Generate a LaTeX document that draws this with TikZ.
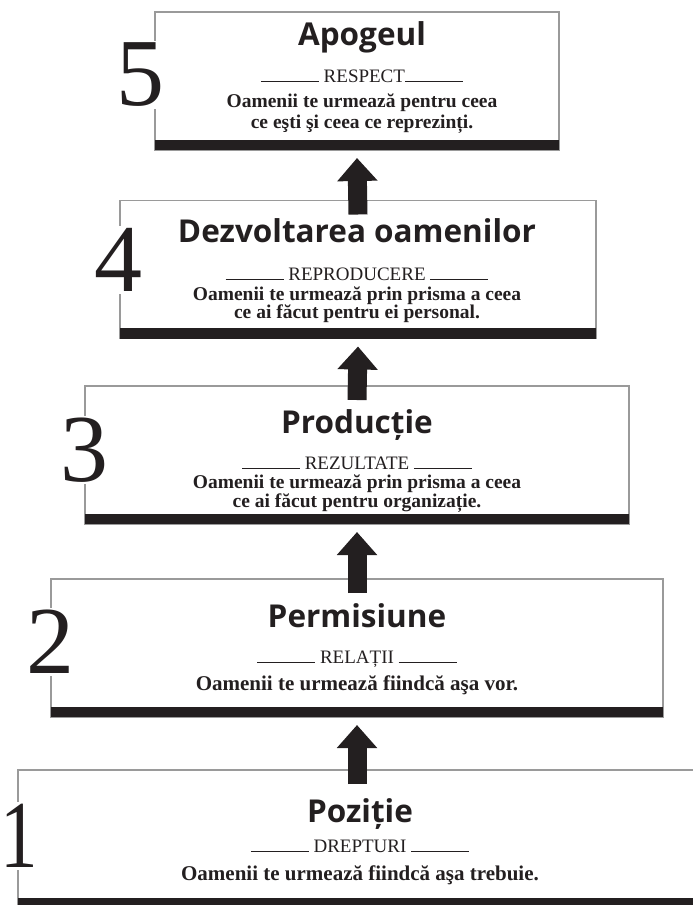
\documentclass[tikz,border=0pt]{standalone}
\usepackage{fontspec}
\setmainfont{Liberation Serif}
\newfontfamily\titlefont{Open Sans}
\usetikzlibrary{arrows.meta}
\definecolor{inkblack}{HTML}{231F20}
\definecolor{framegray}{HTML}{9A9A9A}
\newcommand{\sepline}{\rule{58pt}{1.1pt}}

\begin{document}
\begin{tikzpicture}[
		x=1pt, y=-1pt,
		level/.style={draw=framegray, line width=1.2pt, fill=white, minimum height=138pt, inner sep=0pt, outer sep=0pt},
		bar/.style={fill=inkblack},
		rank/.style={fill=white, text=inkblack, inner sep=2pt, font=\fontsize{96}{96}\selectfont},
		ttl/.style={anchor=base, inner sep=0pt, text=inkblack, font=\titlefont\bfseries\fontsize{31.5}{34}\selectfont},
		sub/.style={anchor=base, inner sep=0pt, text=inkblack, font=\fontsize{19}{21}\selectfont},
		txt/.style={anchor=base, inner sep=0pt, text=inkblack, font=\bfseries\fontsize{19.5}{21}\selectfont},
		txtbig/.style={txt, font=\bfseries\fontsize{21}{23}\selectfont},
		uparrow/.style={-{Triangle[width=39pt,length=23pt]}, line width=19pt, draw=inkblack}
	]
	\useasboundingbox (0,0) rectangle (693,905);
	\clip (0,0) rectangle (693,905);
	% the five levels, bottom to top
	\node[level, minimum width=678pt] (b1) at (357,839) {};
	\node[level, minimum width=612pt] (b2) at (357,648) {};
	\node[level, minimum width=544pt] (b3) at (357,455) {};
	\node[level, minimum width=476pt] (b4) at (358,269.5) {};
	\node[level, minimum width=404pt] (b5) at (357,81) {};
	\foreach \i in {1,...,5} {
			\fill[bar] (b\i.south west) rectangle ([yshift=10.5pt]b\i.south east);
		}
	% numbers on the left edge
	\node[rank] (n1) at (19,836) {\scalebox{0.78}[1]{1}};
	\node[rank] (n2) at (50,642) {2};
	\node[rank] (n3) at (84,450) {3};
	\node[rank] (n4) at (118,260) {4};
	\node[rank] (n5) at (140,75) {5};
	% arrows between levels
	\foreach \i/\j in {1/2,2/3,3/4,4/5} {
			\draw[uparrow] ([yshift=-14pt]b\i.north) -- ([yshift=-8pt]b\j.south);
		}
	% level 5
	\node[ttl] (t5) at (362,45) {Apogeul};
	\node[sub] (s5) at (362,82) {\sepline{} RESPECT\sepline};
	\node[txt] (l5a) at (362,107) {Oamenii te urmează pentru ceea};
	\node[txt] (l5b) at (362,128) {ce eşti şi ceea ce reprezinți.};
	% level 4
	\node[ttl] (t4) at (357,242) {Dezvoltarea oamenilor};
	\node[sub] (s4) at (357,280) {\sepline{} REPRODUCERE \sepline};
	\node[txt] (l4a) at (357,300) {Oamenii te urmează prin prisma a ceea};
	\node[txt] (l4b) at (357,318.5) {ce ai făcut pentru ei personal.};
	% level 3
	\node[ttl] (t3) at (357,433) {Producție};
	\node[sub] (s3) at (357,469) {\sepline{} REZULTATE \sepline};
	\node[txt] (l3a) at (357,488.5) {Oamenii te urmează prin prisma a ceea};
	\node[txt] (l3b) at (357,507) {ce ai făcut pentru organizație.};
	% level 2
	\node[ttl] (t2) at (357,627) {Permisiune};
	\node[sub] (s2) at (357,663) {\sepline{} RELAȚII \sepline};
	\node[txtbig] (l2a) at (357,690) {Oamenii te urmează fiindcă aşa vor.};
	% level 1
	\node[ttl] (t1) at (360,822) {Poziție};
	\node[sub] (s1) at (360,852) {\sepline{} DREPTURI \sepline};
	\node[txtbig] (l1a) at (360,880) {Oamenii te urmează fiindcă aşa trebuie.};
\end{tikzpicture}
\end{document}
